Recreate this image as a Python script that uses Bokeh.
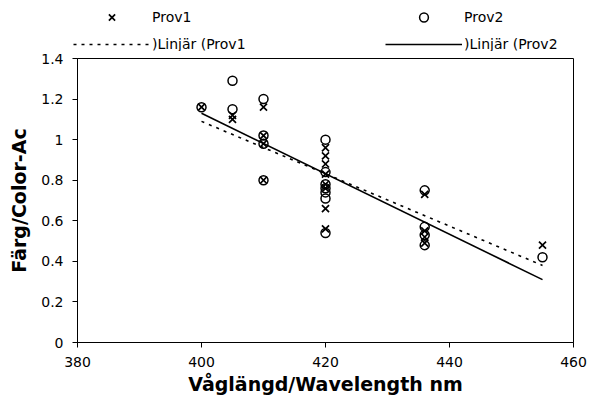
from bokeh.plotting import figure
from bokeh.layouts import column
from bokeh.models import Range1d, FixedTicker, NumeralTickFormatter, Legend, LegendItem, Plot
from bokeh.embed import file_html
from bokeh.resources import INLINE

# Data
prov1_x = [400, 405, 405, 410, 410, 410, 410,
           420, 420, 420, 420, 420, 420, 420, 420,
           436, 436, 436, 436, 455]
prov1_y = [1.16, 1.12, 1.10, 1.16, 1.02, 0.98, 0.80,
           0.96, 0.92, 0.88, 0.83, 0.78, 0.76, 0.66, 0.56,
           0.73, 0.55, 0.52, 0.49, 0.48]
prov2_x = [400, 405, 405, 410, 410, 410, 410,
           420, 420, 420, 420, 420, 420, 420,
           436, 436, 436, 436, 455]
prov2_y = [1.16, 1.29, 1.15, 1.20, 1.02, 0.98, 0.80,
           1.00, 0.84, 0.78, 0.76, 0.74, 0.71, 0.54,
           0.75, 0.57, 0.53, 0.48, 0.42]

trend_x = [400, 455]
trend1_y = [1.09, 0.38]
trend2_y = [1.13, 0.31]

x_ticks = [380, 400, 420, 440, 460]
y_ticks = [0, 0.2, 0.4, 0.6, 0.8, 1.0, 1.2, 1.4]

labels = ["Prov1", ")Linjär (Prov1", "Prov2", ")Linjär (Prov2"]

FONT = "DejaVu Sans"

TREND1 = dict(line_color="black", line_width=1.6, line_dash="3 5")
TREND2 = dict(line_color="black", line_width=1.6)
M1 = dict(marker="x", size=10, line_color="black", line_width=1.7)
M2 = dict(marker="circle", size=9, line_color="black", fill_color=None, line_width=1.5)

p = figure(width=589, height=358, output_backend="svg", toolbar_location=None,
           x_range=Range1d(380, 460), y_range=Range1d(0, 1.4),
           min_border_left=77, min_border_right=16, min_border_top=7, min_border_bottom=67)
p.xgrid.visible = False
p.ygrid.visible = False
p.outline_line_color = "black"
p.outline_line_width = 1
p.background_fill_color = "white"
p.border_fill_color = "white"

p.line(trend_x, trend1_y, **TREND1)
p.line(trend_x, trend2_y, **TREND2)
p.scatter(prov1_x, prov1_y, **M1)
p.scatter(prov2_x, prov2_y, **M2)

for ax in (p.xaxis[0], p.yaxis[0]):
    ax.axis_line_color = "black"
    ax.major_tick_line_color = "black"
    ax.minor_tick_line_color = None
    ax.major_tick_in = 0
    ax.major_tick_out = 5
    ax.major_label_text_font = FONT
    ax.major_label_text_font_size = "14px"
    ax.major_label_text_color = "black"
    ax.axis_label_text_font = FONT
    ax.axis_label_text_font_style = "bold"
    ax.axis_label_text_font_size = "19px"
    ax.axis_label_text_color = "black"

p.xaxis.ticker = FixedTicker(ticks=x_ticks)
p.yaxis.ticker = FixedTicker(ticks=y_ticks)
p.yaxis.formatter = NumeralTickFormatter(format="0.[0]")
p.xaxis.axis_label = "Våglängd/Wavelength nm"
p.yaxis.axis_label = "Färg/Color-Ac"
p.xaxis.major_label_standoff = 9
p.yaxis.major_label_standoff = 9
p.xaxis.axis_label_standoff = 3
p.yaxis.axis_label_standoff = 8

# Legend strip above the chart (its renderers hold the real data, outside its ranges)
lf = figure(width=589, height=51, output_backend="svg", toolbar_location=None,
            x_range=Range1d(0, 1), y_range=Range1d(0, 1),
            x_axis_location=None, y_axis_location=None,
            min_border=0, outline_line_color=None)
lf.xgrid.visible = False
lf.ygrid.visible = False
e1 = lf.scatter(prov1_x, prov1_y, **M1)
e2 = lf.line(trend_x, trend1_y, **TREND1)
e3 = lf.scatter(prov2_x, prov2_y, **M2)
e4 = lf.line(trend_x, trend2_y, **TREND2)

loc = (-4, -4)
if "frame_align" in Plot.properties():
    lf.frame_align = False
    p.frame_align = False
    loc = (73, -4)

legend = Legend(items=[LegendItem(label=labels[0], renderers=[e1]),
                       LegendItem(label=labels[1], renderers=[e2]),
                       LegendItem(label=labels[2], renderers=[e3]),
                       LegendItem(label=labels[3], renderers=[e4])],
                location=loc, orientation="vertical", ncols=2,
                glyph_width=77, glyph_height=22, label_height=22, label_width=228,
                spacing=5, padding=0, margin=0, label_standoff=2,
                border_line_alpha=0, background_fill_alpha=0,
                label_text_font=FONT, label_text_font_size="14px",
                label_text_color="black")
lf.add_layout(legend)

open("out.html", "w").write(file_html(column(lf, p, spacing=0), INLINE))
